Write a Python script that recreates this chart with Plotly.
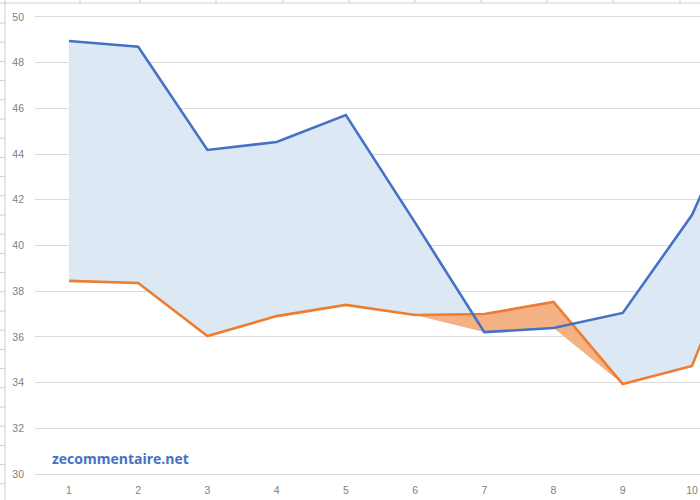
import plotly.graph_objects as go

categories = [1, 2, 3, 4, 5, 6, 7, 8, 9, 10, 11]
tick_labels = ["1", "2", "3", "4", "5", "6", "7", "8", "9", "10", "11"]
series_blue = [48.95, 48.7, 44.18, 44.53, 45.71, 41.0, 36.21, 36.39, 37.05, 41.33, 48.1]
series_orange = [38.45, 38.36, 36.04, 36.91, 37.40, 36.96, 37.0, 37.53, 33.94, 34.73, 42.2]

BLUE = "#4472C4"
ORANGE = "#ED7D31"
BLUE_FILL = "#DDE8F5"
ORANGE_FILL = "#F4B183"
LABEL = "#7F7F7F"

base = [min(b, o) for b, o in zip(series_blue, series_orange)]
blue_top = [bs + max(b - o, 0) for bs, b, o in zip(base, series_blue, series_orange)]
orange_top = [bs + max(o - b, 0) for bs, b, o in zip(base, series_blue, series_orange)]

fig = go.Figure()
fig.add_trace(go.Scatter(x=categories, y=base, mode="lines", line=dict(width=0), hoverinfo="skip", showlegend=False))
fig.add_trace(go.Scatter(x=categories, y=blue_top, mode="lines", line=dict(width=0), fill="tonexty",
                         fillcolor=BLUE_FILL, hoverinfo="skip", showlegend=False))
fig.add_trace(go.Scatter(x=categories, y=base, mode="lines", line=dict(width=0), hoverinfo="skip", showlegend=False))
fig.add_trace(go.Scatter(x=categories, y=orange_top, mode="lines", line=dict(width=0), fill="tonexty",
                         fillcolor=ORANGE_FILL, hoverinfo="skip", showlegend=False))
fig.add_trace(go.Scatter(x=categories, y=series_orange, mode="lines", line=dict(color=ORANGE, width=2.6), showlegend=False))
fig.add_trace(go.Scatter(x=categories, y=series_blue, mode="lines", line=dict(color=BLUE, width=2.6), showlegend=False))

W, H = 700, 500
ML, MR, MT, MB = 35, 0, 17, 26
pw = W - ML - MR
ph = H - MT - MB

def px_x(p):
    return (p - ML) / pw

def px_y(p):
    return 1 - (p - MT) / ph

shapes = []
deco = "#CFCFCF"
shapes.append(dict(type="line", xref="paper", yref="paper", x0=px_x(5), x1=px_x(5), y0=px_y(0), y1=px_y(500),
                   line=dict(color=deco, width=1)))
yy = 23.0
while yy < 500:
    shapes.append(dict(type="line", xref="paper", yref="paper", x0=px_x(0), x1=px_x(5), y0=px_y(yy), y1=px_y(yy),
                       line=dict(color=deco, width=1)))
    yy += 19.2
shapes.append(dict(type="line", xref="paper", yref="paper", x0=px_x(0), x1=px_x(700), y0=px_y(3), y1=px_y(3),
                   line=dict(color=deco, width=1)))
for xp in [80, 140, 216, 283, 349, 415, 481, 547, 613, 680]:
    shapes.append(dict(type="line", xref="paper", yref="paper", x0=px_x(xp), x1=px_x(xp), y0=px_y(0), y1=px_y(3),
                       line=dict(color=deco, width=1)))

fig.update_layout(
    width=W, height=H,
    margin=dict(l=ML, r=MR, t=MT, b=MB, autoexpand=False),
    paper_bgcolor="white", plot_bgcolor="white",
    font=dict(family="Liberation Sans, Arial, sans-serif", size=11, color=LABEL),
    xaxis=dict(range=[0.509, 10.116], tickvals=categories[:10], ticktext=tick_labels[:10],
               showgrid=False, zeroline=False, showline=True, mirror=True, linecolor="#D9D9D9", linewidth=1,
               ticks="", ticklabelstandoff=6, automargin=False, tickfont=dict(size=10.5, color=LABEL)),
    yaxis=dict(range=[30, 50], tickvals=list(range(30, 51, 2)), showgrid=True, gridcolor="#D9D9D9", gridwidth=1,
               zeroline=False, showline=False, ticks="", ticklabelstandoff=10, automargin=False,
               tickfont=dict(size=10.5, color=LABEL)),
    shapes=shapes,
    annotations=[dict(text="<b>zecommentaire.net</b>", xref="paper", yref="paper", x=px_x(50), y=px_y(458),
                      xanchor="left", yanchor="middle", showarrow=False,
                      font=dict(family="Open Sans, Liberation Sans, sans-serif", size=14, color="#4472C4"))],
)

fig.write_html("out.html", config={"displayModeBar": False},
               post_script="document.body.style.margin='0';document.body.style.overflow='hidden';")
